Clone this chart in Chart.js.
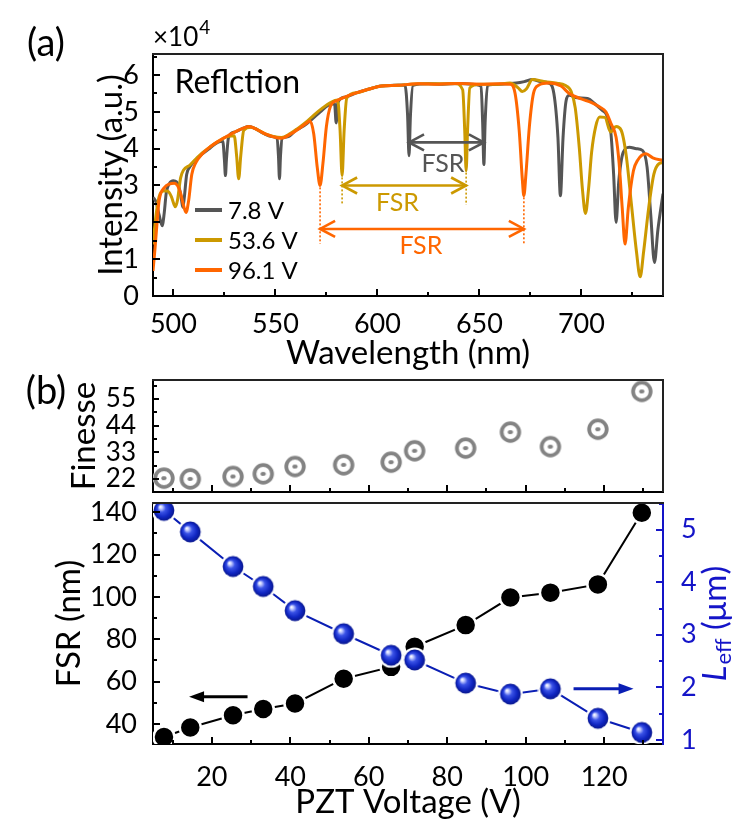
<!DOCTYPE html>
<html><head><meta charset="utf-8">
<script src="https://cdn.jsdelivr.net/npm/chart.js@4.4.1/dist/chart.umd.min.js"></script>
<style>
html,body{margin:0;padding:0;background:#fff;}
#wrap{position:relative;width:747px;height:825px;overflow:hidden;background:#fff;}
canvas{position:absolute;left:0;top:0;}
</style></head><body>
<div id="wrap">
<canvas id="cA" width="747" height="825"></canvas>
<canvas id="cB" width="747" height="825"></canvas>
<canvas id="cC" width="747" height="825"></canvas>
</div>
<script>
// ---------------- DATA ----------------
const wavelengthTicks = [500, 550, 600, 650, 700];
const intensityTicks = [0, 1, 2, 3, 4, 5, 6];
const voltageTicks = [20, 40, 60, 80, 100, 120];
const finesseTicks = [22, 33, 44, 55];
const fsrTicks = [40, 60, 80, 100, 120, 140];
const leffTicks = [1, 2, 3, 4, 5];

const spectrumLabels = ['7.8 V', '53.6 V', '96.1 V'];

// [wavelength (nm), intensity (x10^4)]
const spec7p8 = [[490,2.68],[491.5,2.55],[493,2.2],[494.5,1.91],[495.5,2.25],[496.5,2.8],[498,3.05],[500,3.13],[501.5,3.1],[503,2.9],[504,2.6],[504.6,2.41],[505.3,2.65],[506.5,3.3],[508,3.5],[511,3.7],[514,3.85],[518,4.02],[522,4.18],[524.2,4.2],[525,3.7],[525.5,3.27],[526,3.7],[527,4.3],[530,4.45],[534,4.55],[537,4.6],[540,4.55],[544,4.42],[548,4.33],[550.8,4.28],[551.5,3.8],[552,3.18],[552.5,3.8],[553.3,4.28],[556,4.32],[560,4.5],[564,4.62],[568,4.8],[572,5.0],[576,5.18],[579,5.22],[579.8,4.7],[580.6,5.25],[584,5.4],[590,5.52],[596,5.62],[602,5.7],[608,5.72],[613.5,5.73],[614.8,4.9],[615.5,3.81],[616.2,4.9],[617.5,5.72],[625,5.76],[632,5.75],[640,5.77],[646,5.75],[650.8,5.7],[651.6,4.7],[652.2,3.57],[652.8,4.7],[654,5.72],[660,5.75],[668,5.78],[672,5.82],[676,5.88],[680,5.82],[684,5.78],[686.5,5.5],[688.5,4.3],[689.7,2.72],[691,4.3],[692.5,5.3],[694,5.45],[698,5.38],[703,5.36],[707,5.2],[710,5.05],[712.5,4.9],[714.5,4.4],[715.8,3.3],[717,2.0],[718.3,3.1],[720.5,3.9],[723.5,4.04],[727,4.0],[730,3.95],[732.2,3.5],[734,2.2],[735.8,0.91],[737.5,1.8],[740,2.78]];

const spec53p6 = [[490,1.4],[491.5,2.2],[493,2.7],[495,2.85],[497,2.85],[499,2.7],[500.2,2.5],[501,2.42],[502,2.6],[503.5,3.2],[505,3.42],[508,3.55],[511,3.72],[514,3.88],[518,4.05],[522,4.2],[526,4.32],[529.8,4.35],[531,3.8],[532,3.18],[533,3.8],[534.5,4.5],[538,4.58],[541,4.52],[545,4.4],[549,4.33],[553,4.3],[557,4.4],[561,4.55],[565,4.72],[569,4.92],[573,5.1],[577,5.25],[580.5,5.32],[581.7,4.5],[582.7,3.27],[583.7,4.5],[585,5.38],[590,5.52],[596,5.62],[602,5.7],[610,5.72],[620,5.76],[630,5.76],[638,5.77],[641.8,5.6],[642.8,4.5],[643.5,3.4],[644.2,4.5],[645.3,5.65],[650,5.75],[658,5.75],[665,5.78],[669,5.65],[671,5.55],[673,5.62],[676,5.88],[682,5.82],[688,5.78],[692,5.72],[695,5.55],[697,5.1],[699,4.0],[700.5,2.9],[702,2.24],[703.5,2.9],[705,3.9],[707,4.6],[709,4.86],[711.5,4.85],[714.3,4.45],[717,4.6],[719.5,4.5],[722,3.8],[724.5,2.5],[727,1.2],[728.8,0.52],[730.5,1.2],[733,2.4],[735.5,3.3],[738,3.59],[740,3.62]];

const spec96p1 = [[490,0.68],[491,1.3],[492,2.0],[493,2.59],[495.7,2.95],[498,3.04],[500.5,3.06],[502,3.0],[503.5,2.8],[505,2.45],[506.2,2.27],[507.5,2.6],[509,3.3],[511,3.62],[514,3.85],[518,4.05],[522,4.2],[526,4.33],[530,4.45],[534,4.55],[537,4.6],[541,4.52],[545,4.4],[549,4.32],[553,4.28],[557,4.38],[561,4.52],[565,4.68],[567,4.75],[568.8,4.4],[570.5,3.5],[571.9,3.0],[573.3,3.6],[575,4.6],[577,5.15],[580,5.3],[584,5.4],[590,5.52],[596,5.62],[602,5.7],[610,5.72],[620,5.76],[630,5.75],[640,5.77],[650,5.75],[660,5.76],[665,5.75],[667.5,5.5],[669.5,4.5],[671,3.2],[671.8,2.72],[672.8,3.3],[674.5,4.6],[676.5,5.5],[679,5.72],[684,5.78],[690,5.7],[694,5.5],[700,5.35],[705,5.25],[709,5.13],[712,5.0],[714.5,4.68],[717,4.31],[718.5,3.6],[720,2.4],[721.4,1.41],[723,2.4],[725.5,3.4],[727.5,3.68],[731.7,3.86],[735,3.75],[740,3.68]];

// resonance dips used for FSR markers (nm)
const fsrDips7p8 = [615.5, 652.2];
const fsrDips53p6 = [582.7, 643.5];
const fsrDips96p1 = [571.9, 671.8];

// panel (b)
const pztVoltage = [7.8, 14.5, 25.4, 33.1, 41.2, 53.6, 65.7, 71.7, 84.7, 96.1, 106.3, 118.4, 129.6];
const finesse = [22.3, 22.0, 23.0, 24.1, 27.1, 27.8, 28.9, 33.6, 34.7, 41.3, 35.3, 42.5, 58.1];
const fsr = [33.9, 38.4, 44.2, 47.1, 49.7, 61.4, 67.0, 76.5, 86.7, 99.7, 102.0, 105.9, 139.7];
const leff = [5.37, 4.96, 4.30, 3.92, 3.46, 3.02, 2.61, 2.52, 2.08, 1.87, 1.97, 1.41, 1.14];

// ---------------- STYLE ----------------
const FONT = 'Lato, "Open Sans", "DejaVu Sans", sans-serif';
const GRAY = '#555555', GOLD = '#CC9900', ORANGE = '#FF6600';
const BLUE_AX = '#1414C8', BLUE_LINE = '#0A1EB4', RING = '#838383';
Chart.defaults.font.family = FONT;
Chart.defaults.color = '#000';

const toXY = arr => arr.map(p => ({x: p[0], y: p[1]}));
const pairs = (xs, ys) => xs.map((x, i) => ({x: x, y: ys[i]}));
const setTicks = arr => (s => { s.ticks = arr.map(v => ({value: v})); });

function makeSphere() {
  const c = document.createElement('canvas'); c.width = c.height = 26;
  const g = c.getContext('2d');
  g.fillStyle = '#fff'; g.beginPath(); g.arc(13, 13, 12.6, 0, Math.PI * 2); g.fill();
  const gr = g.createRadialGradient(9.3, 9.3, 0.3, 13, 13, 10.5);
  gr.addColorStop(0, '#ffffff'); gr.addColorStop(0.14, '#c4ccff');
  gr.addColorStop(0.38, '#3a52e6'); gr.addColorStop(0.72, '#1026c2'); gr.addColorStop(1, '#08168c');
  g.fillStyle = gr; g.beginPath(); g.arc(13, 13, 10.4, 0, Math.PI * 2); g.fill();
  return c;
}
function makeRing() {
  const c = document.createElement('canvas'); c.width = c.height = 26;
  const g = c.getContext('2d');
  g.fillStyle = '#fff'; g.beginPath(); g.arc(13, 13, 11.2, 0, Math.PI * 2); g.fill();
  g.strokeStyle = RING; g.lineWidth = 3.8; g.beginPath(); g.arc(13, 13, 8.8, 0, Math.PI * 2); g.stroke();
  g.fillStyle = RING; g.beginPath(); g.ellipse(13, 13, 2.7, 2.1, 0, 0, Math.PI * 2); g.fill();
  return c;
}

function minorValues(ticks, min, max) {
  const v = ticks.map(t => t.value); const out = [];
  if (v.length < 2) return out;
  const step = v[1] - v[0];
  for (let i = -1; i < v.length; i++) {
    const m = i < 0 ? v[0] - step / 2 : v[i] + step / 2;
    if (m >= min - 1e-9 && m <= max + 1e-9) out.push(m);
  }
  return out;
}

function axesPlugin(frame) {
  return {
    id: 'axesDecor',
    afterDatasetsDraw(chart) {
      const ctx = chart.ctx, ca = chart.chartArea;
      ctx.save();
      ctx.lineCap = 'butt';
      Object.values(chart.scales).forEach(sc => {
        const it = sc.options.innerTicks; if (!it) return;
        ctx.strokeStyle = it.color || '#000'; ctx.lineWidth = it.width || 2;
        const draw = (val, len) => {
          const p = Math.round(sc.getPixelForValue(val));
          ctx.beginPath();
          if (sc.position === 'bottom') { ctx.moveTo(p, ca.bottom); ctx.lineTo(p, ca.bottom - len); }
          else if (sc.position === 'left') { ctx.moveTo(ca.left, p); ctx.lineTo(ca.left + len, p); }
          else { ctx.moveTo(ca.right, p); ctx.lineTo(ca.right - len, p); }
          ctx.stroke();
        };
        sc.ticks.forEach(t => draw(t.value, it.major));
        minorValues(sc.ticks, sc.min, sc.max).forEach(v => draw(v, it.minor));
      });
      ctx.strokeStyle = frame.color; ctx.lineWidth = frame.width;
      ctx.beginPath();
      if (frame.top) { ctx.moveTo(ca.left - 1, ca.top); ctx.lineTo(ca.right + 1, ca.top); }
      if (frame.right) { ctx.moveTo(ca.right, ca.top); ctx.lineTo(ca.right, ca.bottom); }
      ctx.stroke();
      ctx.restore();
    }
  };
}

function openHead(ctx, x, y, dir, len, half) {
  ctx.beginPath(); ctx.moveTo(x - dir * len, y - half); ctx.lineTo(x, y); ctx.lineTo(x - dir * len, y + half); ctx.stroke();
}
function filledArrow(ctx, x0, x1, y, color) {
  const dir = x1 > x0 ? 1 : -1, len = 15, half = 5.5;
  ctx.strokeStyle = color; ctx.fillStyle = color; ctx.lineWidth = 3;
  ctx.beginPath(); ctx.moveTo(x0, y); ctx.lineTo(x1 - dir * (len - 2), y); ctx.stroke();
  ctx.beginPath(); ctx.moveTo(x1, y); ctx.lineTo(x1 - dir * len, y - half); ctx.lineTo(x1 - dir * len, y + half); ctx.closePath(); ctx.fill();
}

// ---------------- CHART A ----------------
const annotA = {
  id: 'annotA',
  afterDatasetsDraw(chart) {
    const ctx = chart.ctx, xs = chart.scales.x, ys = chart.scales.y, ca = chart.chartArea;
    const X = v => xs.getPixelForValue(v), Y = v => ys.getPixelForValue(v);
    ctx.save();
    const marks = [
      {dips: fsrDips7p8, color: GRAY, level: 4.17, text: [632.1, 3.59], dots: null},
      {dips: fsrDips53p6, color: GOLD, level: 3.0, text: [609.8, 2.52], dots: [[3.22, 2.48], [3.35, 2.48]]},
      {dips: fsrDips96p1, color: ORANGE, level: 1.82, text: [621.3, 1.36], dots: [[2.95, 1.42], [2.68, 1.42]]}
    ];
    marks.forEach(m => {
      const xa = X(m.dips[0]), xb = X(m.dips[1]), y = Y(m.level);
      ctx.strokeStyle = m.color; ctx.lineWidth = 2.6; ctx.lineJoin = 'miter';
      ctx.beginPath(); ctx.moveTo(xa, y); ctx.lineTo(xb, y); ctx.stroke();
      openHead(ctx, xa, y, -1, 15, 8);
      openHead(ctx, xb, y, 1, 15, 8);
      if (m.dots) {
        ctx.lineWidth = 1.6; ctx.setLineDash([2, 2]);
        m.dots.forEach((d, i) => {
          const x = X(m.dips[i]);
          ctx.beginPath(); ctx.moveTo(x, Y(d[0])); ctx.lineTo(x, Y(d[1])); ctx.stroke();
        });
        ctx.setLineDash([]);
      }
      ctx.fillStyle = m.color; ctx.font = '25px ' + FONT; ctx.textAlign = 'center'; ctx.textBaseline = 'middle';
      ctx.fillText('FSR', X(m.text[0]), Y(m.text[1]));
    });
    ctx.fillStyle = '#000'; ctx.font = '32px ' + FONT; ctx.textAlign = 'left'; ctx.textBaseline = 'middle';
    ctx.fillText('Reflction', X(500.5), Y(5.8));
    chart.data.datasets.forEach((ds, i) => {
      const y = ca.top + 156 + i * 30;
      ctx.strokeStyle = ds.borderColor; ctx.lineWidth = 4;
      ctx.beginPath(); ctx.moveTo(ca.left + 42, y); ctx.lineTo(ca.left + 69, y); ctx.stroke();
      ctx.fillStyle = '#000'; ctx.font = '24px ' + FONT; ctx.textAlign = 'left'; ctx.textBaseline = 'middle';
      ctx.fillText(ds.label, ca.left + 75, y + 1);
    });
    ctx.font = '38px ' + FONT; ctx.textAlign = 'center'; ctx.fillText('(a)', 46, 44);
    ctx.font = '26px ' + FONT; ctx.textAlign = 'left'; ctx.textBaseline = 'alphabetic';
    ctx.fillText('\u00d710', ca.left, 46);
    const w = ctx.measureText('\u00d710').width;
    ctx.font = '19px ' + FONT; ctx.fillText('4', ca.left + w + 1, 34);
    ctx.restore();
  }
};

new Chart(document.getElementById('cA'), {
  type: 'line',
  data: {datasets: [
    {label: spectrumLabels[0], data: toXY(spec7p8), borderColor: GRAY, order: 2},
    {label: spectrumLabels[1], data: toXY(spec53p6), borderColor: GOLD, order: 1},
    {label: spectrumLabels[2], data: toXY(spec96p1), borderColor: ORANGE, order: 0}
  ]},
  options: {
    responsive: false, animation: false, devicePixelRatio: 1, events: [],
    layout: {padding: {left: 0, top: 54, right: 84, bottom: 825 - 296 - 77}},
    elements: {point: {radius: 0}, line: {borderWidth: 3, cubicInterpolationMode: 'monotone', fill: false}},
    plugins: {legend: {display: false}, tooltip: {enabled: false}},
    scales: {
      x: {type: 'linear', min: 490, max: 740, afterBuildTicks: setTicks(wavelengthTicks),
          afterFit: s => { s.height = 77; }, grid: {display: false},
          border: {display: true, color: '#000', width: 2},
          ticks: {padding: 4, font: {size: 27}, color: '#000'},
          title: {display: true, text: 'Wavelength (nm)', font: {size: 33}, padding: {top: 0, bottom: 0}},
          innerTicks: {major: 7, minor: 4, width: 2}},
      y: {type: 'linear', min: 0, max: 6.57, afterBuildTicks: setTicks(intensityTicks),
          afterFit: s => { s.width = 153; }, grid: {display: false},
          border: {display: true, color: '#000', width: 2},
          ticks: {padding: 6, font: {size: 27}, color: '#000'},
          title: {display: true, text: 'Intensity (a.u.)', font: {size: 33}, padding: {top: 92, bottom: 0}},
          innerTicks: {major: 7, minor: 4, width: 2}}
    }
  },
  plugins: [axesPlugin({top: true, right: true, color: '#222', width: 2}), annotA]
});

// ---------------- CHART B (Finesse) ----------------
const labelB = {
  id: 'labelB',
  afterDraw(chart) {
    const ctx = chart.ctx; ctx.save();
    ctx.fillStyle = '#000'; ctx.font = '38px ' + FONT; ctx.textAlign = 'center'; ctx.textBaseline = 'middle';
    ctx.fillText('(b)', 46, 392);
    ctx.restore();
  }
};
new Chart(document.getElementById('cB'), {
  type: 'scatter',
  data: {datasets: [
    {label: 'Finesse', data: pairs(pztVoltage, finesse), pointStyle: makeRing(), pointRadius: 11}
  ]},
  options: {
    responsive: false, animation: false, devicePixelRatio: 1, events: [],
    layout: {padding: {left: 0, top: 380, right: 84, bottom: 825 - 492 - 2}},
    plugins: {legend: {display: false}, tooltip: {enabled: false}},
    scales: {
      x: {type: 'linear', min: 5, max: 135, afterBuildTicks: setTicks(voltageTicks),
          afterFit: s => { s.height = 2; }, grid: {display: false},
          border: {display: true, color: '#000', width: 2},
          ticks: {display: false}, title: {display: false},
          innerTicks: {major: 7, minor: 4, width: 2}},
      y: {type: 'linear', min: 16.6, max: 62.8, afterBuildTicks: setTicks(finesseTicks),
          afterFit: s => { s.width = 153; }, grid: {display: false},
          border: {display: true, color: '#000', width: 2},
          ticks: {padding: 9, font: {size: 26}, color: '#000'},
          title: {display: true, text: 'Finesse', font: {size: 33}, padding: {top: 65, bottom: 0}},
          innerTicks: {major: 6, minor: 4, width: 2}}
    }
  },
  plugins: [axesPlugin({top: true, right: true, color: '#222', width: 2}), labelB]
});

// ---------------- CHART C (FSR & Leff) ----------------
const annotC = {
  id: 'annotC',
  afterDatasetsDraw(chart) {
    const ctx = chart.ctx, xs = chart.scales.x, yl = chart.scales.y, yr = chart.scales.y1, ca = chart.chartArea;
    ctx.save();
    filledArrow(ctx, xs.getPixelForValue(29.1), xs.getPixelForValue(14.2), yl.getPixelForValue(52.9), '#000');
    filledArrow(ctx, xs.getPixelForValue(112.2), xs.getPixelForValue(127.5), yr.getPixelForValue(1.97), BLUE_LINE);
    const cx = ca.right + 52, cy = (ca.top + ca.bottom) / 2;
    ctx.translate(cx, cy); ctx.rotate(-Math.PI / 2);
    ctx.fillStyle = BLUE_AX; ctx.textBaseline = 'middle'; ctx.textAlign = 'left';
    const fMain = 'italic 33px ' + FONT, fSub = '22px ' + FONT, fRest = '33px ' + FONT;
    ctx.font = fMain; const wL = ctx.measureText('L').width;
    ctx.font = fSub; const wS = ctx.measureText('eff').width;
    ctx.font = fRest; const wR = ctx.measureText(' (\u03bcm)').width;
    let x = -(wL + wS + 1 + wR) / 2;
    ctx.font = fMain; ctx.fillText('L', x, 0); x += wL + 1;
    ctx.font = fSub; ctx.fillText('eff', x, 9); x += wS;
    ctx.font = fRest; ctx.fillText(' (\u03bcm)', x, 0);
    ctx.restore();
  }
};
new Chart(document.getElementById('cC'), {
  type: 'scatter',
  data: {datasets: [
    {label: 'FSR', data: pairs(pztVoltage, fsr), yAxisID: 'y', showLine: true, borderColor: '#000',
     borderWidth: 2, pointRadius: 10.5, pointBackgroundColor: '#000', pointBorderColor: '#fff', pointBorderWidth: 2.5, order: 1},
    {label: 'Leff', data: pairs(pztVoltage, leff), yAxisID: 'y1', showLine: true, borderColor: BLUE_LINE,
     borderWidth: 2, pointStyle: makeSphere(), pointRadius: 11, order: 0}
  ]},
  options: {
    responsive: false, animation: false, devicePixelRatio: 1, events: [],
    layout: {padding: {left: 0, top: 503, right: 0, bottom: 0}},
    plugins: {legend: {display: false}, tooltip: {enabled: false}},
    scales: {
      x: {type: 'linear', min: 5, max: 135, afterBuildTicks: setTicks(voltageTicks),
          afterFit: s => { s.height = 81; }, grid: {display: false},
          border: {display: true, color: '#000', width: 2},
          ticks: {padding: 9, font: {size: 27}, color: '#000'},
          title: {display: true, text: 'PZT Voltage (V)', font: {size: 33}, padding: {top: 0, bottom: 3}},
          innerTicks: {major: 7, minor: 4, width: 2}},
      y: {type: 'linear', position: 'left', min: 30.6, max: 144.3, afterBuildTicks: setTicks(fsrTicks),
          afterFit: s => { s.width = 153; }, grid: {display: false},
          border: {display: true, color: '#000', width: 2},
          ticks: {padding: 8, font: {size: 27}, color: '#000'},
          title: {display: true, text: 'FSR (nm)', font: {size: 33}, padding: {top: 50, bottom: 0}},
          innerTicks: {major: 7, minor: 4, width: 2}},
      y1: {type: 'linear', position: 'right', min: 0.92, max: 5.51, afterBuildTicks: setTicks(leffTicks),
          afterFit: s => { s.width = 84; }, grid: {display: false},
          border: {display: true, color: BLUE_AX, width: 2},
          ticks: {padding: 10, font: {size: 27}, color: BLUE_AX},
          title: {display: false},
          innerTicks: {major: 7, minor: 4, width: 2, color: BLUE_AX}}
    }
  },
  plugins: [axesPlugin({top: true, right: false, color: '#222', width: 2}), annotC]
});
</script>
</body></html>
